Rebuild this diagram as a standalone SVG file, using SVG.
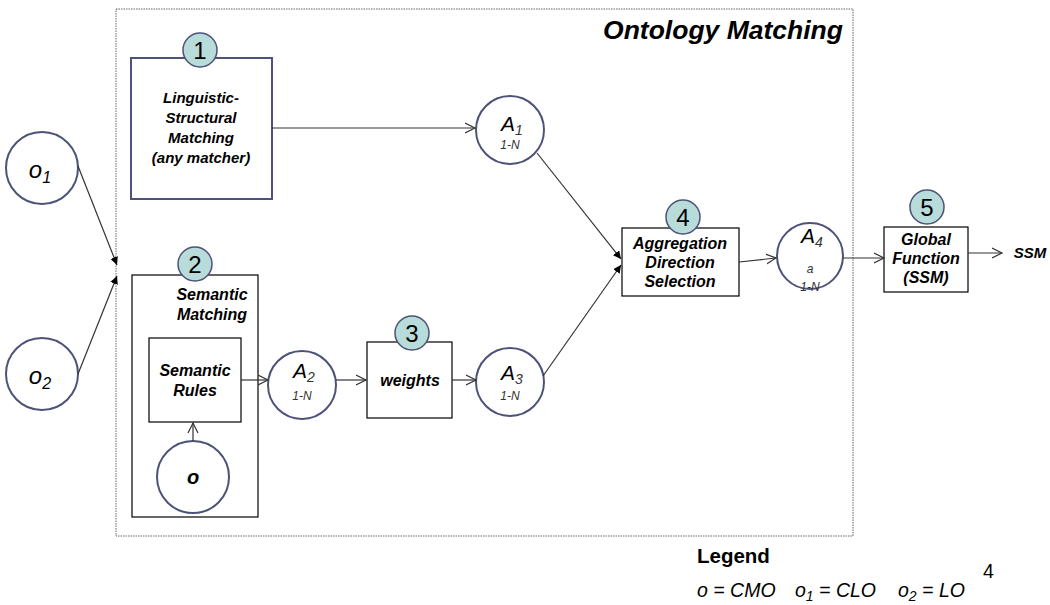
<svg xmlns="http://www.w3.org/2000/svg" width="1050" height="605" viewBox="0 0 1050 605">
<style>
.t{font-family:"Liberation Sans",Arial,sans-serif;font-style:italic;font-weight:bold;font-size:16px;fill:#000;text-anchor:middle}
.n{font-family:"Liberation Sans",Arial,sans-serif;font-style:italic;font-size:21px;fill:#000;text-anchor:middle}
.sub{font-size:14px;fill:#333}
.s{font-family:"Liberation Sans",Arial,sans-serif;font-style:italic;font-size:12px;fill:#333;text-anchor:middle}
.c{fill:#fff;stroke:#4d5278;stroke-width:2}
.b{fill:#fff;stroke:#000;stroke-width:1.2}
.badge{fill:#b8dcda;stroke:#4d5278;stroke-width:1.5}
.bn{font-family:"Liberation Sans",Arial,sans-serif;font-size:24px;fill:#000;text-anchor:middle}
.l{fill:none;stroke:#333;stroke-width:1.2}
.lg{font-family:"Liberation Sans",Arial,sans-serif;font-style:italic;font-size:19.5px;fill:#000}
</style>
<defs>
<marker id="open" markerWidth="12" markerHeight="12" refX="10" refY="5" orient="auto" markerUnits="userSpaceOnUse" viewBox="0 0 12 10">
<path d="M0,0 L10,5 L0,10" fill="none" stroke="#333" stroke-width="1.2"/>
</marker>
<marker id="fill" markerWidth="8" markerHeight="8" refX="8" refY="4" orient="auto" markerUnits="userSpaceOnUse" viewBox="0 0 8 8">
<path d="M0,0 L8,4 L0,8 Z" fill="#000"/>
</marker>
</defs>
<rect width="1050" height="605" fill="#fff"/>
<g id="frame">
<rect x="116" y="9" width="737" height="527" fill="none" stroke="#666" stroke-width="1" stroke-dasharray="1.5,1"/>
<text x="843" y="39" style="font-family:'Liberation Sans',Arial,sans-serif;font-style:italic;font-weight:bold;font-size:26.5px;text-anchor:end">Ontology Matching</text>
</g>
<g id="o1">
<circle class="c" cx="42" cy="168" r="36"/>
<text x="40" y="178" style="font-family:'Liberation Sans',Arial,sans-serif;font-style:italic;font-size:24px;text-anchor:middle">o<tspan font-size="16" dy="5">1</tspan></text>
</g>
<g id="o2">
<circle class="c" cx="42" cy="374" r="36"/>
<text x="40" y="384" style="font-family:'Liberation Sans',Arial,sans-serif;font-style:italic;font-size:24px;text-anchor:middle">o<tspan font-size="16" dy="5">2</tspan></text>
</g>
<g id="box1">
<rect class="c" x="131" y="58" width="141" height="141"/>
<text class="t" x="201" y="103" style="font-size:15px">Linguistic-</text>
<text class="t" x="201" y="123" style="font-size:15px">Structural</text>
<text class="t" x="201" y="143" style="font-size:15px">Matching</text>
<text class="t" x="201" y="163" style="font-size:15px">(any matcher)</text>
<circle class="badge" cx="200" cy="50" r="17"/>
<text class="bn" x="200" y="59">1</text>
</g>
<g id="box2">
<rect class="b" x="132" y="275" width="126" height="242"/>
<text class="t" x="212" y="300">Semantic</text>
<text class="t" x="212" y="320">Matching</text>
<circle class="badge" cx="195" cy="264" r="17"/>
<text class="bn" x="195" y="273">2</text>
</g>
<g id="rules">
<rect class="b" x="149" y="338" width="92" height="84"/>
<text class="t" x="195" y="376">Semantic</text>
<text class="t" x="195" y="396">Rules</text>
</g>
<g id="o">
<circle class="c" cx="193" cy="477" r="36"/>
<text x="193" y="484" style="font-family:'Liberation Sans',Arial,sans-serif;font-style:italic;font-weight:bold;font-size:20px;text-anchor:middle">o</text>
</g>
<g id="A1">
<circle class="c" cx="510" cy="130" r="34"/>
<text class="n" x="512" y="131">A<tspan class="sub" dy="4">1</tspan></text>
<text class="s" x="510" y="149">1-N</text>
</g>
<g id="A2">
<circle class="c" cx="302" cy="385" r="34"/>
<text class="n" x="304" y="378">A<tspan class="sub" dy="4">2</tspan></text>
<text class="s" x="302" y="400">1-N</text>
</g>
<g id="weights">
<rect class="b" x="367" y="342" width="85" height="76"/>
<text class="t" x="410" y="386">weights</text>
<circle class="badge" cx="412" cy="333" r="17"/>
<text class="bn" x="412" y="342">3</text>
</g>
<g id="A3">
<circle class="c" cx="510" cy="382" r="34"/>
<text class="n" x="512" y="380">A<tspan class="sub" dy="4">3</tspan></text>
<text class="s" x="510" y="400">1-N</text>
</g>
<g id="aggregation">
<rect class="b" x="622" y="228" width="117" height="68"/>
<text class="t" x="680" y="249">Aggregation</text>
<text class="t" x="680" y="268">Direction</text>
<text class="t" x="680" y="287">Selection</text>
<circle class="badge" cx="683" cy="217" r="17"/>
<text class="bn" x="683" y="226">4</text>
</g>
<g id="A4">
<circle class="c" cx="810" cy="256" r="33"/>
<text class="n" x="812" y="243">A<tspan class="sub" dy="4">4</tspan></text>
<text class="s" x="810" y="273">a</text>
<text class="s" x="810" y="291">1-N</text>
</g>
<g id="global">
<rect class="b" x="884" y="227" width="84" height="65"/>
<text class="t" x="926" y="245">Global</text>
<text class="t" x="926" y="264">Function</text>
<text class="t" x="926" y="283">(SSM)</text>
<circle class="badge" cx="927" cy="207" r="17"/>
<text class="bn" x="927" y="216">5</text>
</g>
<g id="ssm">
<text class="t" x="1030" y="258" style="font-size:15px">SSM</text>
</g>
<g id="connectors">
<line class="l" x1="78" y1="166" x2="117" y2="265" marker-end="url(#fill)"/>
<line class="l" x1="78" y1="374" x2="117" y2="276" marker-end="url(#fill)"/>
<line class="l" x1="272" y1="128" x2="475" y2="128" marker-end="url(#open)"/>
<line class="l" x1="193" y1="441" x2="193" y2="423" marker-end="url(#open)"/>
<line class="l" x1="241" y1="380" x2="268" y2="380" marker-end="url(#open)"/>
<line class="l" x1="336" y1="380" x2="366" y2="380" marker-end="url(#open)"/>
<line class="l" x1="452" y1="380" x2="476" y2="380" marker-end="url(#open)"/>
<line class="l" x1="537" y1="153" x2="621" y2="259" marker-end="url(#fill)"/>
<line class="l" x1="543" y1="376" x2="621" y2="265" marker-end="url(#fill)"/>
<line class="l" x1="739" y1="262" x2="776" y2="258" marker-end="url(#open)"/>
<line class="l" x1="843" y1="258" x2="884" y2="258" marker-end="url(#open)"/>
<line class="l" x1="968" y1="253" x2="1002" y2="253" marker-end="url(#open)"/>
</g>
<g id="legend">
<text x="697" y="563" style="font-family:'Liberation Sans',Arial,sans-serif;font-weight:bold;font-size:20.5px">Legend</text>
<text class="lg" x="697" y="597">o = CMO</text>
<text class="lg" x="795" y="597">o<tspan font-size="14" dy="4">1</tspan><tspan dy="-4"> = CLO</tspan></text>
<text class="lg" x="898" y="597">o<tspan font-size="14" dy="4">2</tspan><tspan dy="-4"> = LO</tspan></text>
<text x="983" y="578" style="font-family:'Liberation Sans',Arial,sans-serif;font-size:19.5px">4</text>
</g>
</svg>
